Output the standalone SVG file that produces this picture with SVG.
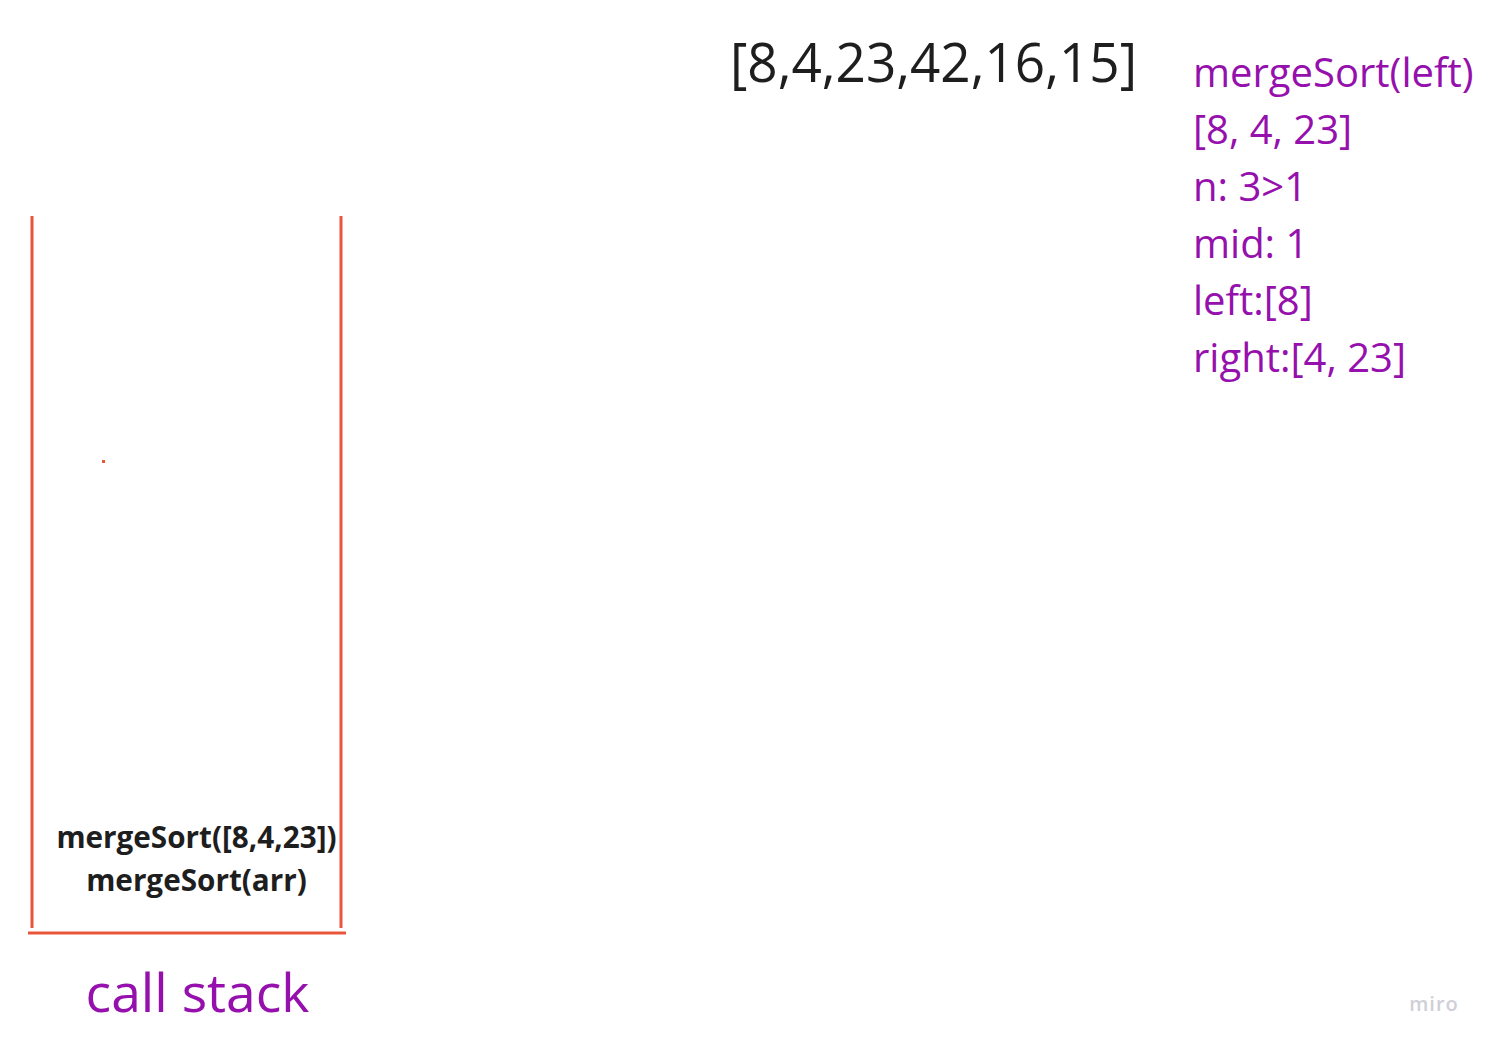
<svg xmlns="http://www.w3.org/2000/svg" width="1492" height="1046" viewBox="0 0 1492 1046">
<style>
.stack{stroke:#e8553b;stroke-width:3;fill:none}
.purple{fill:#9510ac;font-family:"Open Sans","Noto Sans",sans-serif}
.dark{fill:#1e1e1e;font-family:"Open Sans","Noto Sans",sans-serif}
</style>
<rect width="1492" height="1046" fill="#ffffff"/>
<g id="title"><text class="dark" x="730" y="82" font-size="54" textLength="407" lengthAdjust="spacingAndGlyphs">[8,4,23,42,16,15]</text></g>
<g id="notes" class="purple" font-size="40">
<text x="1193" y="87">mergeSort(left)</text>
<text x="1193" y="144">[8, 4, 23]</text>
<text x="1193" y="201">n: 3&gt;1</text>
<text x="1193" y="258">mid: 1</text>
<text x="1193" y="315">left:[8]</text>
<text x="1193" y="372">right:[4, 23]</text>
</g>
<g id="callstack">
<line class="stack" x1="32" y1="216" x2="32" y2="928"/>
<line class="stack" x1="341" y1="216" x2="341" y2="928"/>
<line class="stack" x1="28" y1="933" x2="346" y2="933"/>
<rect x="102" y="460" width="3" height="3" fill="#e8553b"/>
<text class="dark" x="196.5" y="848" font-size="29.7" font-weight="bold" text-anchor="middle">mergeSort([8,4,23])</text>
<text class="dark" x="196.5" y="891" font-size="29.7" font-weight="bold" text-anchor="middle">mergeSort(arr)</text>
<text class="purple" x="197.5" y="1012" font-size="53.4" text-anchor="middle">call stack</text>
</g>
<g id="connectors"/>
<text x="1434" y="1011" font-size="20" font-weight="600" letter-spacing="1" text-anchor="middle" fill="#cfcfd8" font-family="'Open Sans',sans-serif">miro</text>
</svg>
